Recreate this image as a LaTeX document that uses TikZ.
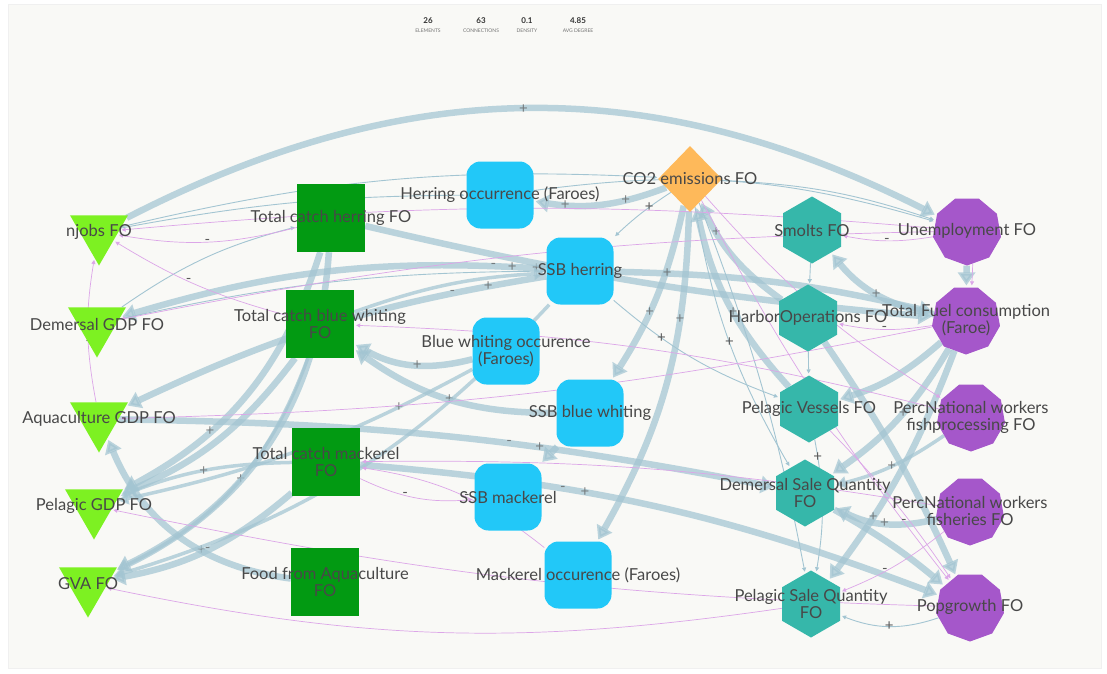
\documentclass[tikz,border=0pt]{standalone}
\usepackage{fontspec}
\setmainfont{Lato}
\usetikzlibrary{shapes.geometric,arrows.meta}
\pgfdeclarelayer{edges}
\pgfsetlayers{edges,main}
\definecolor{panel}{HTML}{F9F9F6}
\definecolor{lime}{HTML}{7DF122}
\definecolor{dgreen}{HTML}{029A12}
\definecolor{skyb}{HTML}{22C8F8}
\definecolor{amber}{HTML}{FEB95A}
\definecolor{tealc}{HTML}{36B7AA}
\definecolor{purp}{HTML}{A557CA}
\definecolor{edgec}{HTML}{A3C5D2}
\definecolor{pinkc}{HTML}{DCA6E8}
\definecolor{txt}{HTML}{484848}
\definecolor{signc}{HTML}{5A5A5A}
\tikzset{
  lbl/.style={text=txt, font=\fontsize{16.5}{17}\selectfont, align=center, inner sep=0pt},
  tri/.style={regular polygon, regular polygon sides=3, shape border rotate=180, minimum size=67pt, fill=lime, inner sep=0pt},
  sq/.style={rectangle, minimum size=68pt, fill=dgreen, inner sep=0pt},
  rsq/.style={rectangle, rounded corners=14pt, minimum size=67pt, fill=skyb, inner sep=0pt},
  dia/.style={diamond, minimum width=64pt, minimum height=66pt, fill=amber, inner sep=0pt},
  hex/.style={regular polygon, regular polygon sides=6, shape border rotate=30, minimum size=67pt, fill=tealc, inner sep=0pt},
  non/.style={regular polygon, regular polygon sides=9, shape border rotate=180, minimum size=69pt, fill=purp, inner sep=0pt},
  thk/.style={draw=edgec, draw opacity=0.72, fill opacity=0.72, line width=6.5pt, shorten >=2pt,
    -{Triangle[length=13pt,width=17pt,fill=edgec]}},
  mid/.style={draw=edgec, draw opacity=0.72, fill opacity=0.72, line width=3.5pt, shorten >=2pt,
    -{Triangle[length=10pt,width=12pt,fill=edgec]}},
  thn/.style={draw=edgec, line width=0.9pt, shorten >=2pt, -{Triangle[length=4pt,width=4pt]}},
  pnk/.style={draw=pinkc, line width=0.7pt, shorten >=2pt, -{Triangle[length=4pt,width=4pt]}},
  sg/.style={text=signc, font=\fontsize{15}{15}\selectfont, inner sep=0.5pt},
  stnum/.style={text=black!80, font=\fontsize{8}{8}\selectfont\bfseries, inner sep=0pt},
  sttxt/.style={text=black!55, font=\fontsize{5}{5}\selectfont, inner sep=0pt},
}
\begin{document}
\begin{tikzpicture}[x=1pt,y=-1pt]
\useasboundingbox (0,0) rectangle (1107,673);
\begin{pgfonlayer}{edges}
  \fill[white] (0,0) rectangle (1107,673);
  \filldraw[fill=panel, draw=black!6, line width=0.6pt] (8,4) rectangle (1101,668);
\end{pgfonlayer}

% summary figures
\node[stnum] (n1) at (428,21) {26};  \node[sttxt] (t1) at (428,30.5) {ELEMENTS};
\node[stnum] (n2) at (481,21) {63};  \node[sttxt] (t2) at (481,30.5) {CONNECTIONS};
\node[stnum] (n3) at (527,21) {0.1}; \node[sttxt] (t3) at (527,30.5) {DENSITY};
\node[stnum] (n4) at (578,21) {4.85};\node[sttxt] (t4) at (578,30.5) {AVG DEGREE};

% economy (triangles)
\node[tri] (nj)  at (99,232)  {};
\node[tri] (dg)  at (97,324)  {};
\node[tri] (ag)  at (99,419)  {};
\node[tri] (pg)  at (94,506)  {};
\node[tri] (gva) at (88,584)  {};
% catches (squares)
\node[sq] (tch) at (331,218) {};
\node[sq] (tcb) at (320,324) {};
\node[sq] (tcm) at (326,462) {};
\node[sq] (ffa) at (325,582) {};
% stocks (rounded squares)
\node[rsq] (ho)  at (500,195) {};
\node[rsq] (sh)  at (580,271) {};
\node[rsq] (bwo) at (506,351) {};
\node[rsq] (sbw) at (590,413) {};
\node[rsq] (sm)  at (508,497) {};
\node[rsq] (mo)  at (578,575) {};
% emissions
\node[dia] (co2) at (690,179) {};
% fleet (hexagons)
\node[hex] (smo) at (812,230) {};
\node[hex] (hop) at (808,318) {};
\node[hex] (pv)  at (809,409) {};
\node[hex] (dsq) at (805,493) {};
\node[hex] (psq) at (811,604) {};
% society (nonagons)
\node[non] (un)  at (967,231) {};
\node[non] (tf)  at (966,320) {};
\node[non] (pnp) at (971,417) {};
\node[non] (pnf) at (970,511) {};
\node[non] (pop) at (970,607) {};

\begin{pgfonlayer}{edges}
% heavy links
\draw[thk] (nj) to[bend left=27] node[sg,pos=0.49]{+} (un);
\draw[thk] (co2) to[bend left=15] node[sg,pos=0.3]{+} node[sg,pos=0.78]{+} (ho);
\draw[thk] (co2) to[bend left=10] node[sg,pos=0.6]{+} (sbw);
\draw[thk] (co2) to[bend left=14] node[sg,pos=0.3]{+} (mo);
\draw[thk] (sbw) -- (sm);
\draw[thk] (ffa) to[bend left=30] node[sg,pos=0.38]{+} (ag);
\draw[thk] (tch) to[bend left=30] node[sg,pos=0.62]{+} (gva);
\draw[mid] (tcb) to[bend left=22] (gva);
\draw[thk] (tcm) to[bend left=15] node[sg,pos=0.5]{-} (gva);
\draw[thk] (tcb) to[bend left=15] (pg);
\draw[thk] (tch) to[bend left=22] node[sg,pos=0.68]{+} (pg);
\draw[mid] (tcm) to[bend right=10] node[sg,pos=0.5]{+} (pg);
\draw[thk] (sh) to[bend right=10] node[sg,pos=0.02]{+} node[sg,pos=0.07]{+} node[sg,pos=0.11]{-} (dg);
\draw[thk] (sbw) to[bend left=18] node[sg,pos=0.5]{+} (tcb);
\draw[thk] (bwo) to[bend left=22] node[sg,pos=0.45]{+} (tcb);
\draw[mid] (bwo) to[bend left=8] node[sg,pos=0.2]{+} (pg);
\draw[thk] (sh) to[bend right=8] node[sg,pos=0.12]{+} node[sg,pos=0.2]{-} (ag);
\draw[mid] (tcb) to[bend left=8] (sh);
\draw[thk] (tch) to[bend right=4] (tf);
\draw[thk] (sh) to[bend left=6] node[sg,pos=0.15]{+} (tf);
\draw[thk] (tf) to[bend left=20] node[sg,pos=0.5]{+} (smo);
\draw[thk] (un) -- (tf);
\draw[thk] (tf) to[bend left=12] (pv);
\draw[thk] (tf) to[bend left=12] node[sg,pos=0.45]{+} (dsq);
\draw[thk] (tf) to[bend left=8] node[sg,pos=0.72]{+} (psq);
\draw[thk] (pnf) to[bend left=20] node[sg,pos=0.5]{+} (dsq);
\draw[mid] (pnp) to[bend left=10] node[sg,pos=0.5]{+} (dsq);
\draw[thk] (hop) to[bend left=5] (pop);
\draw[thk] (dsq) to[bend left=5] (pop);
\draw[thk] (tcm) to[bend left=8] node[sg,pos=0.33]{-} node[sg,pos=0.37]{+} (pop);
\draw[thk] (ag) to[bend left=5] node[sg,pos=0.6]{-} node[sg,pos=0.65]{+} (dsq);
\draw[thk] (hop) to[bend left=15] node[sg,pos=0.75]{+} (co2);
\draw[thk] (pv) to[bend left=15] node[sg,pos=0.45]{+} (co2);
\draw[mid] (sh) to[bend left=15] (gva);
% light links
\draw[thn] (nj) to[bend left=8] (co2);
\draw[thn] (nj) to[bend left=5] (ho);
\draw[thn] (dg) to[bend left=10] (tch);
\draw[thn] (dg) to[bend left=6] (sh);
\draw[thn] (co2) to[bend left=8] (un);
\draw[thn] (ho) to[bend left=12] (un);
\draw[thn] (smo) -- (hop);
\draw[thn] (hop) -- (pv);
\draw[thn] (pv) to[bend left=10] node[sg,pos=0.12]{+} (psq);
\draw[thn] (pop) to[bend left=20] node[sg]{+} (psq);
\draw[thn] (co2) to[bend right=10] node[sg,pos=0.5]{+} (dsq);
\draw[thn] (co2) to[bend left=5] (psq);
\draw[thn] (sh) to[bend right=10] node[sg,pos=0.3]{+} (pv);
\draw[thn] (co2) to[bend right=5] node[sg,pos=0.35]{+} (sh);
% negative links
\draw[pnk] (un) to[bend left=10] node[sg]{-} (smo);
\draw[pnk] (tf) to[bend left=10] node[sg]{-} (hop);
\draw[pnk] (tch) to[bend left=12] node[sg,pos=0.5]{-} (nj);
\draw[pnk] (tcb) to[bend left=8] node[sg,pos=0.55]{-} (nj);
\draw[pnk] (ag) to[bend left=10] node[sg,pos=0.4]{-} (nj);
\draw[pnk] (tcm) to[bend right=15] node[sg,pos=0.4]{-} (sm);
\draw[pnk] (mo) to[bend right=15] node[sg,pos=0.45]{-} (tcm);
\draw[pnk] (co2) to[bend right=8] (pnp);
\draw[pnk] (co2) to[bend right=5] node[sg,pos=0.85]{-} (pop);
\draw[pnk] (un) to[bend right=5] (nj);
\draw[pnk] (un) to[bend right=5] (dg);
\draw[pnk] (tf) to[bend left=5] (ag);
\draw[pnk] (pnp) to[bend right=6] (tcb);
\draw[pnk] (pnf) to[bend right=5] (tcm);
\draw[pnk] (pop) to[bend left=5] (pg);
\draw[pnk] (psq) to[bend left=10] (gva);
\draw[pnk] (un.-80) -- (tf.80);
\draw[pnk] (pnf) to[bend left=8] node[sg,pos=0.6]{-} (psq);
\draw[pnk] (pv) to[bend left=5] (pop);
\end{pgfonlayer}

% names
\node[lbl] (l-nj)  at (nj)  {njobs FO};
\node[lbl] (l-dg)  at (dg)  {Demersal GDP FO};
\node[lbl] (l-ag)  at (ag)  {Aquaculture GDP FO};
\node[lbl] (l-pg)  at (pg)  {Pelagic GDP FO};
\node[lbl] (l-gva) at (gva) {GVA FO};
\node[lbl] (l-tch) at (tch) {Total catch herring FO};
\node[lbl] (l-tcb) at (tcb) {Total catch blue whiting\\FO};
\node[lbl] (l-tcm) at (tcm) {Total catch mackerel\\FO};
\node[lbl] (l-ffa) at (ffa) {Food from Aquaculture\\FO};
\node[lbl] (l-ho)  at (ho)  {Herring occurrence (Faroes)};
\node[lbl] (l-sh)  at (sh)  {SSB herring};
\node[lbl] (l-bwo) at (bwo) {Blue whiting occurence\\(Faroes)};
\node[lbl] (l-sbw) at (sbw) {SSB blue whiting};
\node[lbl] (l-sm)  at (sm)  {SSB mackerel};
\node[lbl] (l-mo)  at (mo)  {Mackerel occurence (Faroes)};
\node[lbl] (l-co2) at (co2) {CO2 emissions FO};
\node[lbl] (l-smo) at (smo) {Smolts FO};
\node[lbl] (l-hop) at (hop) {HarborOperations FO};
\node[lbl] (l-pv)  at (pv)  {Pelagic Vessels FO};
\node[lbl] (l-dsq) at (dsq) {Demersal Sale Quantity\\FO};
\node[lbl] (l-psq) at (psq) {Pelagic Sale Quantity\\FO};
\node[lbl] (l-un)  at (un)  {Unemployment FO};
\node[lbl] (l-tf)  at (tf)  {Total Fuel consumption\\(Faroe)};
\node[lbl] (l-pnp) at (pnp) {PercNational workers\\fishprocessing FO};
\node[lbl] (l-pnf) at (pnf) {PercNational workers\\fisheries FO};
\node[lbl] (l-pop) at (pop) {Popgrowth FO};
\end{tikzpicture}
\end{document}
